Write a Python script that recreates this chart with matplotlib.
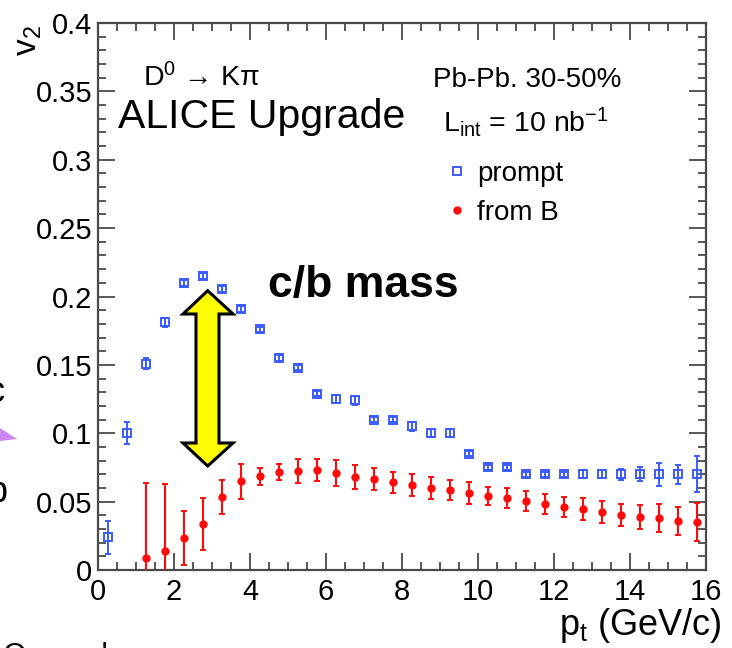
import matplotlib
matplotlib.use('Agg')
import matplotlib.pyplot as plt
from matplotlib.patches import Polygon
from matplotlib.lines import Line2D

plt.rcParams['font.family'] = ['Liberation Sans', 'DejaVu Sans']
plt.rcParams['mathtext.fontset'] = 'custom'
plt.rcParams['mathtext.rm'] = 'Liberation Sans'
plt.rcParams['mathtext.it'] = 'Liberation Sans:italic'
plt.rcParams['mathtext.bf'] = 'Liberation Sans:bold'

# ---------------- data ----------------
pt_prompt = [0.25, 0.75, 1.25, 1.75, 2.25, 2.75, 3.25, 3.75, 4.25, 4.75, 5.25, 5.75,
             6.25, 6.75, 7.25, 7.75, 8.25, 8.75, 9.25, 9.75, 10.25, 10.75, 11.25, 11.75,
             12.25, 12.75, 13.25, 13.75, 14.25, 14.75, 15.25, 15.75]
v2_prompt = [0.024, 0.100, 0.151, 0.181, 0.210, 0.215, 0.2055, 0.191, 0.176, 0.155, 0.148, 0.129,
             0.125, 0.124, 0.110, 0.110, 0.105, 0.100, 0.100, 0.085, 0.075, 0.075, 0.070, 0.070,
             0.070, 0.070, 0.070, 0.070, 0.070, 0.070, 0.070, 0.070]
err_prompt = [0.012, 0.008, 0.004, 0.003, 0.002, 0.002, 0.002, 0.002, 0.002, 0.002, 0.002, 0.002,
              0.003, 0.003, 0.002, 0.002, 0.003, 0.003, 0.003, 0.002, 0.002, 0.002, 0.002, 0.002,
              0.002, 0.003, 0.003, 0.004, 0.005, 0.0083, 0.007, 0.013]

pt_fromB = [1.25, 1.75, 2.25, 2.75, 3.25, 3.75, 4.25, 4.75, 5.25, 5.75,
            6.25, 6.75, 7.25, 7.75, 8.25, 8.75, 9.25, 9.75, 10.25, 10.75,
            11.25, 11.75, 12.25, 12.75, 13.25, 13.75, 14.25, 14.75, 15.25, 15.75]
v2_fromB = [0.0088, 0.0139, 0.0234, 0.0336, 0.0533, 0.0650, 0.0687, 0.0717, 0.0724, 0.0731,
            0.0709, 0.0680, 0.0665, 0.0643, 0.0621, 0.0600, 0.0585, 0.0563, 0.0541, 0.0527,
            0.0505, 0.0483, 0.0461, 0.0446, 0.0424, 0.0402, 0.0388, 0.0380, 0.0358, 0.0351]
err_fromB = [0.055, 0.049, 0.020, 0.019, 0.0125, 0.0128, 0.0062, 0.0060, 0.0085, 0.0083,
             0.0093, 0.0085, 0.0082, 0.0077, 0.0080, 0.0080, 0.0075, 0.0078, 0.0067, 0.0073,
             0.0070, 0.0073, 0.0070, 0.0080, 0.0080, 0.0080, 0.0087, 0.0100, 0.0100, 0.0137]

x_ticks = [0, 2, 4, 6, 8, 10, 12, 14, 16]
x_ticklabels = ["0", "2", "4", "6", "8", "10", "12", "14", "16"]
y_ticks = [0, 0.05, 0.1, 0.15, 0.2, 0.25, 0.3, 0.35, 0.4]
y_ticklabels = ["0", "0.05", "0.1", "0.15", "0.2", "0.25", "0.3", "0.35", "0.4"]

BLUE = '#3a5cff'
RED = '#ff0a0a'

# ---------------- figure ----------------
W, H = 732, 648
fig = plt.figure(figsize=(W / 100, H / 100), dpi=100)
ax = fig.add_axes([98 / W, 1 - 570 / H, 608 / W, 547 / H])


def fx(px):
    return px / W


def fy(py):
    return 1 - py / H


ax.errorbar(pt_prompt, v2_prompt, yerr=err_prompt, fmt='s', ms=6, mfc='none', mec=BLUE,
            mew=1.4, ecolor=BLUE, elinewidth=1.4, capsize=2, capthick=1.4, zorder=3)
ax.errorbar(pt_fromB, v2_fromB, yerr=err_fromB, fmt='o', ms=5, mfc=RED, mec=RED,
            ecolor=RED, elinewidth=1.5, capsize=2, capthick=1.4, zorder=3)

ax.set_xlim(0, 16)
ax.set_ylim(0, 0.4)
ax.set_xticks(x_ticks)
ax.set_xticklabels(x_ticklabels)
ax.set_yticks(y_ticks)
ax.set_yticklabels(y_ticklabels)
ax.set_xticks([v / 2 for v in range(33)], minor=True)
ax.set_yticks([v / 100 for v in range(41)], minor=True)

SP = '#4a4a4a'
for s in ax.spines.values():
    s.set_color(SP)
    s.set_linewidth(1.6)
ax.tick_params(which='both', direction='in', top=True, right=True, color=SP, width=1.3)
ax.tick_params(which='major', length=12)
ax.tick_params(which='minor', length=6)
ax.tick_params(axis='y', which='major', labelsize=21, pad=4)
ax.tick_params(axis='x', which='major', labelsize=21, pad=6)

ax.set_ylabel(r'$\mathregular{v_2}$', fontsize=24, loc='top')
ax.yaxis.set_label_coords((44 - 98) / 608, (570 - 25) / 547)
ax.set_xlabel(r'$\mathregular{p_t}$ (GeV/c)', fontsize=26, loc='right')
ax.xaxis.set_label_coords((722 - 98) / 608, (570 - 606) / 547)

# ---------------- texts ----------------
fig.text(fx(143), fy(86), r'D$^{\mathregular{0}}$ → Kπ', fontsize=20.5, va='baseline', ha='left')
fig.text(fx(118), fy(128), 'ALICE Upgrade', fontsize=29.5, va='baseline', ha='left')
fig.text(fx(433), fy(87), 'Pb-Pb. 30-50%', fontsize=20, va='baseline', ha='left')
fig.text(fx(443), fy(132), r'L$_{\mathregular{int}}$ = 10 nb$^{\mathregular{-1}}$', fontsize=20.5,
         va='baseline', ha='left')
fig.text(fx(268), fy(297), 'c/b mass', fontsize=32, fontweight='bold', va='baseline', ha='left')

# legend
h1 = Line2D([], [], ls='none', marker='s', ms=6, mfc='none', mec=BLUE, mew=1.4)
h2 = Line2D([], [], ls='none', marker='o', ms=5, mfc=RED, mec=RED)
fig.legend([h1, h2], ['prompt', 'from B'], loc='upper left', bbox_to_anchor=(fx(449), fy(161)),
           frameon=False, fontsize=20, handlelength=0.6, handletextpad=0.4, labelspacing=0.45,
           borderpad=0, borderaxespad=0)

# double-headed yellow arrow (annotation)
arrow_px = [(207.7, 290.7), (233, 314), (219, 314), (219, 443), (233, 443), (207.7, 466),
            (183, 443), (196, 443), (196, 314), (183, 314)]
fig.patches.append(Polygon([(fx(a), fy(b)) for a, b in arrow_px], closed=True,
                           facecolor='#ffff00', edgecolor='black', linewidth=2.2,
                           transform=fig.transFigure, figure=fig, zorder=5))

# cut-off fragments at the left and bottom edges
fig.patches.append(Polygon([(fx(0), fy(428)), (fx(17), fy(439)), (fx(0), fy(441))], closed=True,
                           facecolor='#cf85f2', edgecolor='none', transform=fig.transFigure,
                           figure=fig))
fig.text(fx(4), fy(402), 'c', fontsize=26, ha='right', va='baseline')
fig.text(fx(8), fy(502), 'b', fontsize=26, ha='right', va='baseline')
fig.text(fx(3), fy(642), 'Open charm', fontsize=22, ha='left', va='top')

fig.savefig('out.png', dpi=100)
